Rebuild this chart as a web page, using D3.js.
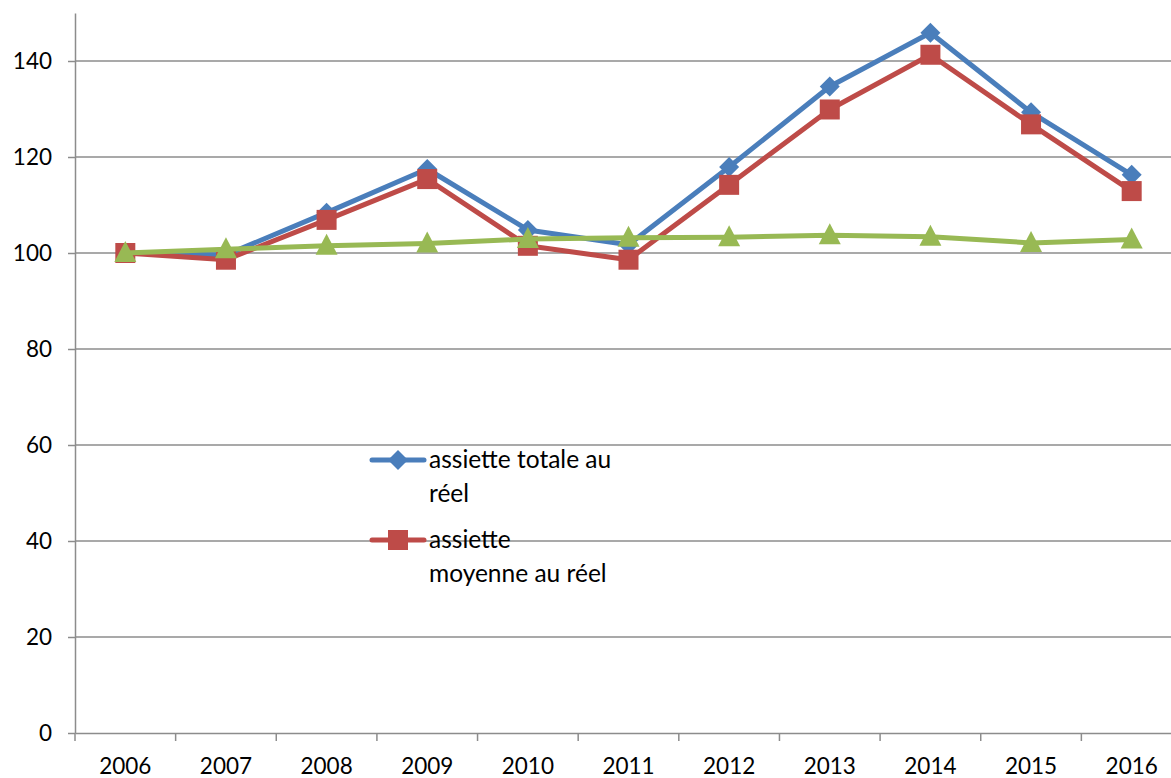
<!DOCTYPE html>
<html><head><meta charset="utf-8">
<script src="https://cdn.jsdelivr.net/npm/d3@7"></script>
<style>body{margin:0;background:#fff}svg{display:block}text{font-family:Lato,"Open Sans",sans-serif}</style>
</head><body>
<svg id="c" width="1171" height="778"></svg>
<script>
const years = ["2006","2007","2008","2009","2010","2011","2012","2013","2014","2015","2016"];
const totale = [100, 99.6, 108.4, 117.5, 104.8, 101.7, 117.9, 134.7, 145.9, 129.3, 116.3];
const moyenne = [100, 98.6, 106.9, 115.4, 101.5, 98.6, 114.2, 129.9, 141.3, 126.8, 112.9];
const third = [100, 100.8, 101.5, 102.0, 102.9, 103.2, 103.3, 103.7, 103.4, 102.1, 102.8];
const yTicks = [0, 20, 40, 60, 80, 100, 120, 140];
const seriesNames = ["assiette totale au réel", "assiette moyenne au réel"];

const svg = d3.select("#c");
const x = d3.scaleBand().domain(years).range([75, 1182]);
const y = d3.scaleLinear().domain([0, 150]).range([733, 13]);
const axisCol = "#8c8c8c";
const font = "Lato, 'Open Sans', sans-serif";

// gridlines
svg.append("g").selectAll("line").data(yTicks.filter(d => d > 0)).join("line")
  .attr("x1", 75).attr("x2", 1182).attr("y1", d => y(d)).attr("y2", d => y(d))
  .attr("stroke", axisCol).attr("stroke-width", 1.5);

// y axis
const ya = svg.append("g").attr("transform", "translate(75,0)")
  .call(d3.axisLeft(y).tickValues(yTicks).tickSize(7).tickPadding(16).tickSizeOuter(0));
ya.select(".domain").attr("stroke", axisCol).attr("stroke-width", 1.5);
ya.selectAll(".tick line").attr("stroke", axisCol).attr("stroke-width", 1.5);
ya.selectAll("text").attr("font-size", 22.5).attr("fill", "#000").attr("font-family", font);

// x axis
const xa = svg.append("g").attr("transform", "translate(0,733)")
  .call(d3.axisBottom(x).tickSize(0));
xa.select(".domain").attr("stroke", axisCol).attr("stroke-width", 1.5);
xa.selectAll("text").attr("y", 41).attr("dy", 0)
  .attr("font-size", 22.5).attr("fill", "#000").attr("font-family", font);
svg.append("g").selectAll("line").data(years).join("line")
  .attr("x1", d => x(d)).attr("x2", d => x(d)).attr("y1", 733).attr("y2", 741)
  .attr("stroke", axisCol).attr("stroke-width", 1.5);

const cx = d => x(d) + x.bandwidth() / 2;
const line = d3.line().x((d, i) => cx(years[i])).y(d => y(d));

const series = [
  {vals: totale, col: "#4A7EBB", sym: "diamond"},
  {vals: moyenne, col: "#BE4B48", sym: "square"},
  {vals: third, col: "#98B954", sym: "triangle"}
];

function drawMarker(g, sym, col, px, py) {
  if (sym === "diamond") {
    g.append("path").attr("d", `M${px},${py-10}L${px+10},${py}L${px},${py+10}L${px-10},${py}Z`).attr("fill", col);
  } else if (sym === "square") {
    g.append("rect").attr("x", px-10).attr("y", py-10).attr("width", 20).attr("height", 20).attr("fill", col);
  } else {
    g.append("path").attr("d", `M${px},${py-12}L${px+11},${py+9}L${px-11},${py+9}Z`).attr("fill", col);
  }
}

series.forEach(s => {
  const g = svg.append("g");
  g.append("path").datum(s.vals).attr("d", line).attr("fill", "none")
    .attr("stroke", s.col).attr("stroke-width", 5).attr("stroke-linejoin", "round");
  s.vals.forEach((v, i) => drawMarker(g, s.sym, s.col, cx(years[i]), y(v)));
});

// legend
const leg = svg.append("g");
const legRows = [
  {lines: ["assiette totale au", "réel"], ly: 460, s: series[0]},
  {lines: ["assiette", "moyenne au réel"], ly: 540, s: series[1]}
];
legRows.forEach(r => {
  leg.append("line").attr("x1", 372).attr("x2", 424).attr("y1", r.ly).attr("y2", r.ly)
    .attr("stroke", r.s.col).attr("stroke-width", 5).attr("stroke-linecap", "round");
  drawMarker(leg, r.s.sym, r.s.col, 398, r.ly);
  r.lines.forEach((t, k) => {
    leg.append("text").attr("x", 429).attr("y", r.ly + 8 + k * 34)
      .attr("font-size", 24.5).attr("fill", "#000").text(t);
  });
});
</script>
</body></html>
